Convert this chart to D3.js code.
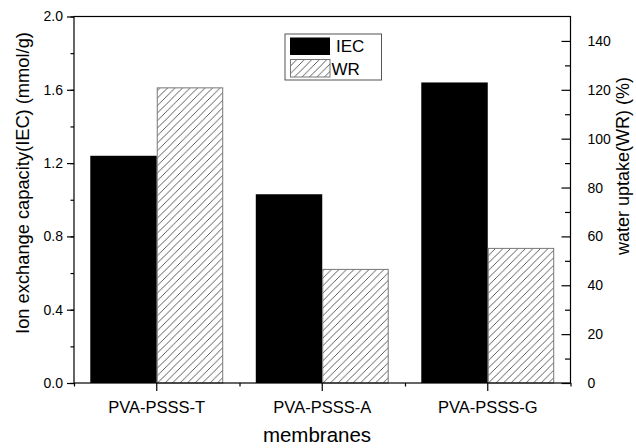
<!DOCTYPE html>
<style>
body { margin: 0; background: #fff; }
text { font-family: "Liberation Sans", Arial, sans-serif; fill: #000; }
</style>
<svg width="636" height="448"></svg>
<script src="https://d3js.org/d3.v7.min.js"></script>
<script>
'use strict';

var categories = ["PVA-PSSS-T", "PVA-PSSS-A", "PVA-PSSS-G"];
var series = ["IEC", "WR"];
var iec = [1.24, 1.03, 1.64];
var wr = [121, 46.7, 55.3];
var leftTicks = [0, 0.4, 0.8, 1.2, 1.6, 2.0];
var rightTicks = [0, 20, 40, 60, 80, 100, 120, 140];

var svg = d3.select("svg"),
    margin = {top: 16.5, right: 65.5, bottom: 65, left: 74},
    width = +svg.attr("width") - margin.left - margin.right,
    height = +svg.attr("height") - margin.top - margin.bottom,
    g = svg.append("g").attr("transform", "translate(" + margin.left + "," + margin.top + ")");

// hatch for the WR bars
var pat = svg.append("defs").append("pattern")
    .attr("id", "hatch")
    .attr("patternUnits", "userSpaceOnUse")
    .attr("width", 7.5).attr("height", 7.5);
pat.append("rect").attr("width", 7.5).attr("height", 7.5).attr("fill", "#fff");
pat.append("path")
    .attr("d", "M0,7.5 L7.5,0 M-2,2 L2,-2 M5.5,9.5 L9.5,5.5")
    .attr("stroke", "#333").attr("stroke-width", 0.8);

var x0 = d3.scaleBand().domain(categories).range([0, width]);
var x1 = d3.scaleBand().domain(series).range([0, x0.bandwidth()]).paddingOuter(0.245);
var yL = d3.scaleLinear().domain([0, 2]).range([height, 0]);
var yR = d3.scaleLinear().domain([0, 150]).range([height, 0]);

var data = categories.map(function(c, i) { return {cat: c, IEC: iec[i], WR: wr[i]}; });

var grp = g.selectAll(".grp")
    .data(data)
    .enter().append("g")
    .attr("transform", function(d) { return "translate(" + x0(d.cat) + ",0)"; });

grp.append("rect")
    .attr("x", x1("IEC"))
    .attr("y", function(d) { return yL(d.IEC); })
    .attr("width", x1.bandwidth())
    .attr("height", function(d) { return height - yL(d.IEC); })
    .attr("fill", "#000");

grp.append("rect")
    .attr("x", x1("WR") + 0.5)
    .attr("y", function(d) { return yR(d.WR) + 0.5; })
    .attr("width", x1.bandwidth() - 1)
    .attr("height", function(d) { return height - yR(d.WR) - 0.5; })
    .attr("fill", "url(#hatch)")
    .attr("stroke", "#777").attr("stroke-width", 1);

// frame
g.append("rect")
    .attr("width", width).attr("height", height)
    .attr("fill", "none").attr("stroke", "#000").attr("stroke-width", 1.2);

// left axis
var minorL = d3.range(0, 2.01, 0.2);
g.append("g")
    .call(d3.axisLeft(yL).tickValues(minorL).tickSize(3.5).tickFormat(""))
    .call(function(a) { a.select(".domain").remove(); });
g.append("g")
    .call(d3.axisLeft(yL).tickValues(leftTicks).tickSize(7).tickPadding(4).tickFormat(d3.format(".1f")))
    .call(function(a) { a.select(".domain").remove(); a.selectAll("text").attr("font-size", 14).style("font-family", "Liberation Sans, Arial, sans-serif"); });

// right axis, ticks inward
g.append("g")
    .attr("transform", "translate(" + width + ",0)")
    .call(d3.axisLeft(yR).tickValues(d3.range(10, 150, 20)).tickSize(5.5).tickFormat(""))
    .call(function(a) { a.select(".domain").remove(); });
g.append("g")
    .attr("transform", "translate(" + width + ",0)")
    .call(d3.axisRight(yR).tickValues(rightTicks).tickSize(-9).tickPadding(17).tickFormat(d3.format("d")))
    .call(function(a) { a.select(".domain").remove(); a.selectAll("text").attr("font-size", 14).style("font-family", "Liberation Sans, Arial, sans-serif"); });

// bottom axis
g.append("g")
    .attr("transform", "translate(0," + height + ")")
    .call(d3.axisBottom(d3.scaleLinear().domain([0, 3]).range([0, width])).tickValues([0, 1, 2, 3]).tickSize(3.5).tickFormat(""))
    .call(function(a) { a.select(".domain").remove(); });
g.append("g")
    .attr("transform", "translate(0," + height + ")")
    .call(d3.axisBottom(x0).tickSize(8).tickPadding(10))
    .call(function(a) { a.select(".domain").remove(); a.selectAll("text").attr("font-size", 16.5).style("font-family", "Liberation Sans, Arial, sans-serif"); });

g.selectAll(".tick line").attr("stroke", "#000").attr("stroke-width", 1.2);

// axis titles
svg.append("text")
    .attr("transform", "translate(29,183) rotate(-90)")
    .attr("text-anchor", "middle")
    .attr("font-size", 18.3)
    .text("Ion exchange capacity(IEC) (mmol/g)");

svg.append("text")
    .attr("transform", "translate(629,166) rotate(-90)")
    .attr("text-anchor", "middle")
    .attr("font-size", 18)
    .text("water uptake(WR) (%)");

svg.append("text")
    .attr("x", 317).attr("y", 442)
    .attr("text-anchor", "middle")
    .attr("font-size", 20.5)
    .text("membranes");

// legend
var leg = svg.append("g").attr("transform", "translate(285,34)");
leg.append("rect")
    .attr("width", 96.5).attr("height", 46)
    .attr("fill", "#fff").attr("stroke", "#555").attr("stroke-width", 1);
leg.append("rect")
    .attr("x", 5).attr("y", 3.5).attr("width", 40).attr("height", 17.5)
    .attr("fill", "#000");
leg.append("rect")
    .attr("x", 5.5).attr("y", 25.5).attr("width", 39.5).attr("height", 17.5)
    .attr("fill", "url(#hatch)").attr("stroke", "#777");
leg.selectAll(".lt")
    .data(series)
    .enter().append("text")
    .attr("x", function(d, i) { return i === 0 ? 51 : 46.5; })
    .attr("y", function(d, i) { return 12.5 + i * 23; })
    .attr("dy", "0.35em")
    .attr("font-size", 17)
    .text(function(d) { return d; });
</script>
